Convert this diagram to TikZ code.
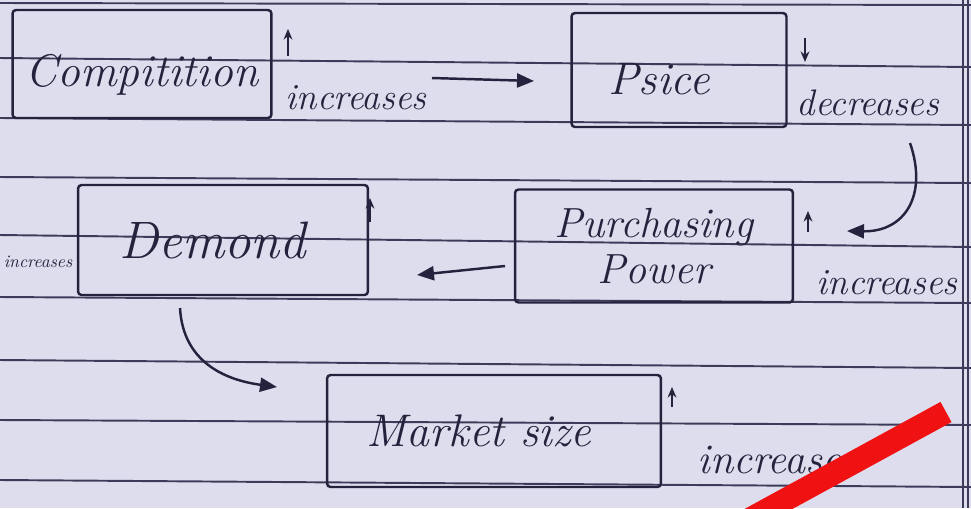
\documentclass[tikz,border=0pt]{standalone}
\usetikzlibrary{arrows.meta}
\definecolor{paper}{RGB}{221,221,237}
\definecolor{ink}{RGB}{35,35,62}
\definecolor{rule}{RGB}{60,60,90}
\definecolor{redmark}{RGB}{240,18,18}
\tikzset{
  x=0.02cm, y=-0.02cm,
  box/.style={draw=ink, line width=1.4pt, rounded corners=2pt, text=ink, inner sep=0pt, align=center},
  big/.style={font=\fontsize{26}{30}\selectfont\itshape},
  lbl/.style={text=ink, inner sep=0pt, font=\fontsize{21}{24}\selectfont\itshape},
  tiny/.style={text=ink, inner sep=0pt, font=\fontsize{10}{12}\selectfont\itshape},
  conn/.style={draw=ink, line width=1.4pt, -{Triangle[length=0.34cm,width=0.28cm]}},
  small/.style={draw=ink, line width=1.1pt, -{Stealth[length=6pt,width=5pt]}},
  ruled/.style={draw=rule, line width=1.1pt}
}
\begin{document}
\begin{tikzpicture}
\useasboundingbox (0,0) rectangle (971,508);
\clip (0,0) rectangle (971,508);
\fill[paper] (0,0) rectangle (971,508);
% ruled lines
\foreach \a/\b in {3/5,58/67,118/125,177/183,235/247,297/303,360/368,420/425,480/487}
  \draw[ruled] (0,\a) -- (971,\b);
\draw[ruled] (963,0) -- (963,508);
\draw[ruled] (968,0) -- (968,508);
% boxes
\node[box, big, minimum width=5.18cm, minimum height=2.16cm] (comp) at (142,64) {\raisebox{-0.22cm}[\height][\depth]{Compitition}};
\node[box, big, minimum width=4.3cm, minimum height=2.28cm] (price) at (679,70) {\raisebox{-0.18cm}[\height][\depth]{Psice}\hspace*{0.8cm}};
\node[box, big, minimum width=5.8cm, minimum height=2.2cm, font=\fontsize{30}{34}\selectfont\itshape] (dem) at (223,240) {Demond\hspace*{0.4cm}};
\node[box, big, minimum width=5.56cm, minimum height=2.26cm, font=\fontsize{24}{26}\selectfont\itshape] (pp) at (654,246) {Purchasing\\Power};
\node[box, big, minimum width=6.68cm, minimum height=2.24cm] (ms) at (494,431) {Market size\hspace*{0.6cm}};
% labels
\node[lbl] (inc1) at (356,98) {increases};
\node[lbl] (dec) at (868,103) {decreases};
\node[tiny] (incL) at (38,262) {increases};
\node[lbl] (inc3) at (887,283) {increases};
\node[lbl, font=\fontsize{24}{28}\selectfont\itshape] (inc4) at (778,460) {increases};
% small arrows
\coordinate (u1a) at (288,56); \coordinate (u1b) at (288,29);
\draw[small] (u1a) -- (u1b);
\coordinate (d1a) at (805,38); \coordinate (d1b) at (805,62);
\draw[small] (d1a) -- (d1b);
\coordinate (u2a) at (370,222); \coordinate (u2b) at (370,198);
\draw[small] (u2a) -- (u2b);
\coordinate (u3a) at (808,232); \coordinate (u3b) at (808,211);
\draw[small] (u3a) -- (u3b);
\coordinate (u4a) at (672,407); \coordinate (u4b) at (672,387);
\draw[small] (u4a) -- (u4b);
% connectors
\coordinate (c1s) at (432,78); \coordinate (c1e) at (534,81);
\draw[conn] (c1s) -- (c1e);
\coordinate (c2s) at (910,143); \coordinate (c2e) at (847,231);
\draw[conn] (c2s) .. controls (928,195) and (905,232) .. (c2e);
\coordinate (c3s) at (505,266); \coordinate (c3e) at (417,275);
\draw[conn] (c3s) -- (c3e);
\coordinate (c4s) at (180,308); \coordinate (c4e) at (277,387);
\draw[conn] (c4s) .. controls (183,362) and (225,380) .. (c4e);
% red mark
\coordinate (r1) at (946,412); \coordinate (r2) at (730,530);
\draw[redmark, line width=0.46cm] (r1) -- (r2);
\end{tikzpicture}
\end{document}
